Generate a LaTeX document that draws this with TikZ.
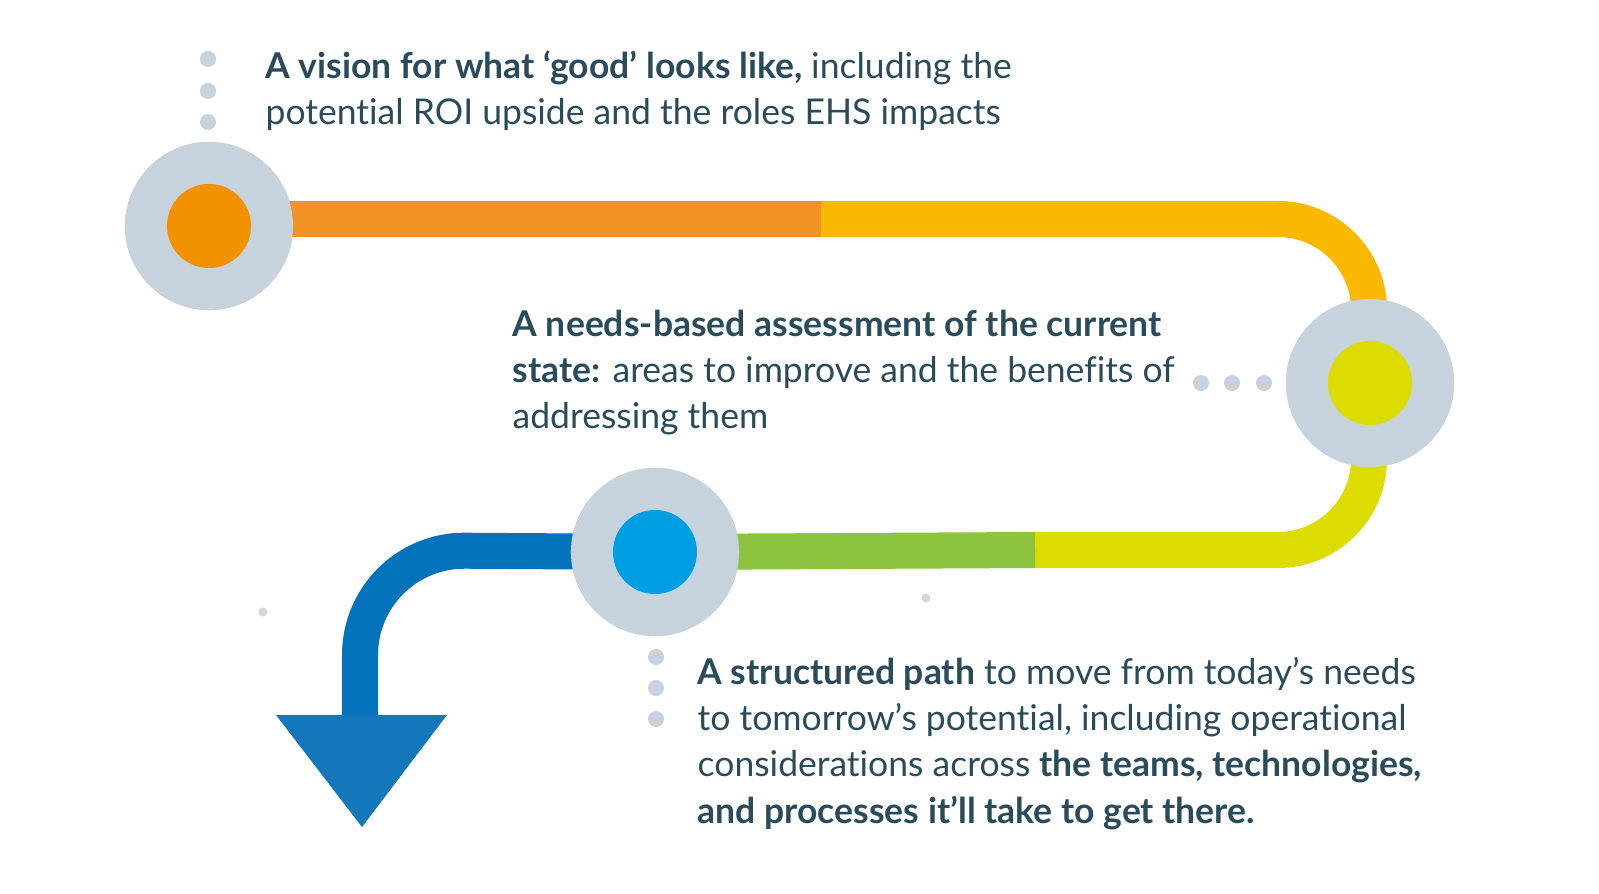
\documentclass[tikz,border=0pt]{standalone}
\usepackage{fontspec}
\setmainfont{Lato}[Ligatures={NoCommon}]
\usepackage{tikz}
\usetikzlibrary{calc,positioning}
\definecolor{ring}{HTML}{C6D3DC}
\definecolor{speck}{HTML}{D5D6D9}
\definecolor{ink}{HTML}{2A4B5C}
\definecolor{orangecore}{HTML}{F29200}
\definecolor{orangebar}{HTML}{F09224}
\definecolor{yellowbar}{HTML}{F9B900}
\definecolor{limebar}{HTML}{DCDC00}
\definecolor{greenbar}{HTML}{8CC43F}
\definecolor{cyancore}{HTML}{009FE3}
\definecolor{bluebar}{HTML}{0273BB}
\definecolor{bluehead}{HTML}{1476BB}
\tikzset{
  bar/.style={line width=0.36cm},
  ringnode/.style={circle,fill=ring,minimum size=1.68cm,inner sep=0pt},
  corenode/.style={circle,minimum size=0.84cm,inner sep=0pt},
  blurb/.style={anchor=base west,align=left,inner sep=0pt,text=ink,
    font=\fontsize{10.1pt}{13.1pt}\selectfont},
}
\begin{document}
\begin{tikzpicture}[x=0.01cm,y=-0.01cm]
        \def\rc{0.9cm}
        \def\rb{1.05cm}
        \useasboundingbox[fill=white] (0,0) rectangle (1599,894);
        \coordinate (o1) at (209,219);
        \coordinate (t1) at (821,219);
        \coordinate (k1) at (1368,219);
        \coordinate (k2) at (1368,550);
        \coordinate (t2) at (1035,550);
        \coordinate (k3) at (360,550);
        \coordinate (h0) at (360,715);
        \coordinate (hl) at (276,715);
        \coordinate (hr) at (447,715);
        \coordinate (hp) at (362,827);
        %Draw the rings
        \node[ringnode] (r1) at (209,226) {};
        \node[ringnode] (r2) at (1370,383) {};
        \node[ringnode] (r3) at (655,552) {};
        %Draw the path
        \draw[bar,orangebar] (o1) -- (t1);
        \draw[bar,yellowbar,rounded corners=\rc] (t1) -- (k1) -- (r2.center);
        \draw[bar,limebar,rounded corners=\rc] (r2.center) -- (k2) -- (t2);
        \draw[bar,greenbar] (t2) -- (r3.center);
        \draw[bar,bluebar,rounded corners=\rb] (r3.center) -- (k3) -- (h0);
        \fill[bluehead] (hl) -- (hr) -- (hp) -- cycle;
        %Redraw rings on top
        \node[ringnode] at (r1) {};
        \node[ringnode] at (r2) {};
        \node[ringnode] at (r3) {};
        \node[corenode,fill=orangecore] (c1) at (r1.center) {};
        \node[corenode,fill=limebar] (c2) at (r2.center) {};
        \node[corenode,fill=cyancore] (c3) at (r3.center) {};
        %Dots
        \foreach \y in {59,91,122} \fill[ring] (208,\y) circle (0.08cm);
        \foreach \x in {1201,1232,1264} \fill[ring] (\x,383) circle (0.08cm);
        \foreach \y in {657,688,719} \fill[ring] (656,\y) circle (0.08cm);
        \fill[speck] (263,612) circle (0.045cm);
        \fill[speck] (926,598) circle (0.045cm);
        %Draw labels (anchored at the last baseline)
        \node[blurb] (vision) at (265,125) {\textbf{A vision for what ‘good’ looks like,} including the\\
          potential ROI upside and the roles EHS impacts};
        \node[blurb] (needs) at (512,429) {\textbf{A needs-based assessment of the current}\\
          \textbf{state:} areas to improve and the benefits of\\
          addressing them};
        \node[blurb] (route) at (697,823) {\textbf{A structured path} to move from today’s needs\\
          to tomorrow’s potential, including operational\\
          considerations across \textbf{the teams, technologies,}\\
          \textbf{and processes it’ll take to get there.}};
      \end{tikzpicture}
\end{document}
